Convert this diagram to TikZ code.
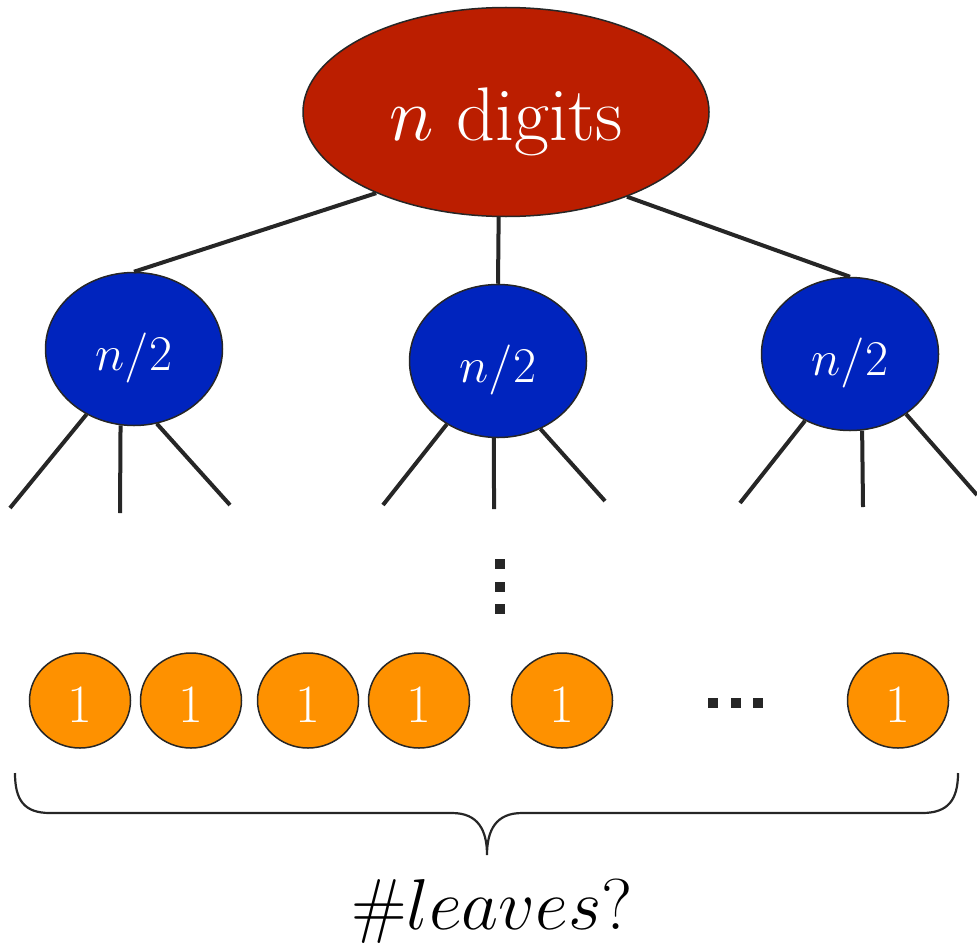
\RequirePackage{fix-cm}
\documentclass[tikz,border=0pt]{standalone}
\usepackage{amsmath, amssymb}
\usepackage{tikz}
\usetikzlibrary{positioning,shapes.geometric}
\definecolor{rootred}{RGB}{187,30,0}
\definecolor{halfblue}{RGB}{0,36,190}
\definecolor{leaforange}{RGB}{254,145,0}
\definecolor{linegray}{RGB}{38,38,38}
\tikzset{
  rootnode/.style={ellipse, draw=linegray, line width=0.75pt, fill=rootred, text=white, inner sep=0pt, minimum width=203pt, minimum height=104.5pt, text height=36pt, text depth=8pt, font=\fontsize{38}{46}\selectfont},
  halfnode/.style={ellipse, draw=linegray, line width=0.75pt, fill=halfblue, text=white, inner sep=0pt, minimum width=88.5pt, minimum height=76.5pt, text height=27pt, text depth=6pt, font=\fontsize{25}{30}\selectfont},
  leafnode/.style={ellipse, draw=linegray, line width=0.75pt, fill=leaforange, text=white, inner sep=0pt, minimum width=50.5pt, minimum height=47.5pt, text height=21.5pt, text depth=0pt, font=\fontsize{27}{32}\selectfont},
  treeedge/.style={draw=linegray, line width=2pt},
  bracepath/.style={draw=linegray, line width=1.1pt},
  dotsq/.style={fill=linegray},
  asklabel/.style={anchor=base, inner sep=0pt, font=\fontsize{36}{43}\selectfont}
}

\begin{document}
\begin{tikzpicture}[x=0.5pt, y=-0.5pt]
  \useasboundingbox (0,0) rectangle (977,947);
  \node[rootnode] (root) at (506,112) {$n$ digits};
  \node[halfnode] (h1) at (134,349) {$n/2$};
  \node[halfnode] (h2) at (498,361) {$n/2$};
  \node[halfnode] (h3) at (850,354) {$n/2$};
  \draw[treeedge] (root.212.6) -- (h1.north);
  \draw[treeedge] (root.266) -- (h2.north);
  \draw[treeedge] (root.325.4) -- (h3.north);
  \coordinate (h1-a) at (10,508);
  \coordinate (h1-b) at (120,513);
  \coordinate (h1-c) at (230,505);
  \coordinate (h2-a) at (383,505);
  \coordinate (h2-b) at (494,509);
  \coordinate (h2-c) at (605,501);
  \coordinate (h3-a) at (740,503);
  \coordinate (h3-b) at (863,507);
  \coordinate (h3-c) at (977,495);
  \foreach \h/\a/\b/\c in {h1/234/260/287, h2/231/267/302, h3/236/279/313} {
    \draw[treeedge] (\h.\a) -- (\h-a);
    \draw[treeedge] (\h.\b) -- (\h-b);
    \draw[treeedge] (\h.\c) -- (\h-c);
  }
  \foreach \y in {564,587,609}
    \fill[dotsq] (494.5,\y-5) rectangle +(10,10);
  \foreach \x [count=\i] in {80,191,308,419,562,898}
    \node[leafnode] (l\i) at (\x,700.5) {1};
  \foreach \x in {713,735.5,758}
    \fill[dotsq] (\x-5,697.5) rectangle +(10,10);
  \draw[bracepath] (15,773) .. controls (15,800) and (24,813) .. (50,813) -- (452,813)
    .. controls (478,813) and (487,830) .. (487,855)
    .. controls (487,830) and (496,813) .. (522,813) -- (922,813)
    .. controls (948,813) and (958,800) .. (958,773);
  \node[asklabel] (count) at (492,929) {$\#leaves?$};
\end{tikzpicture}
\end{document}
